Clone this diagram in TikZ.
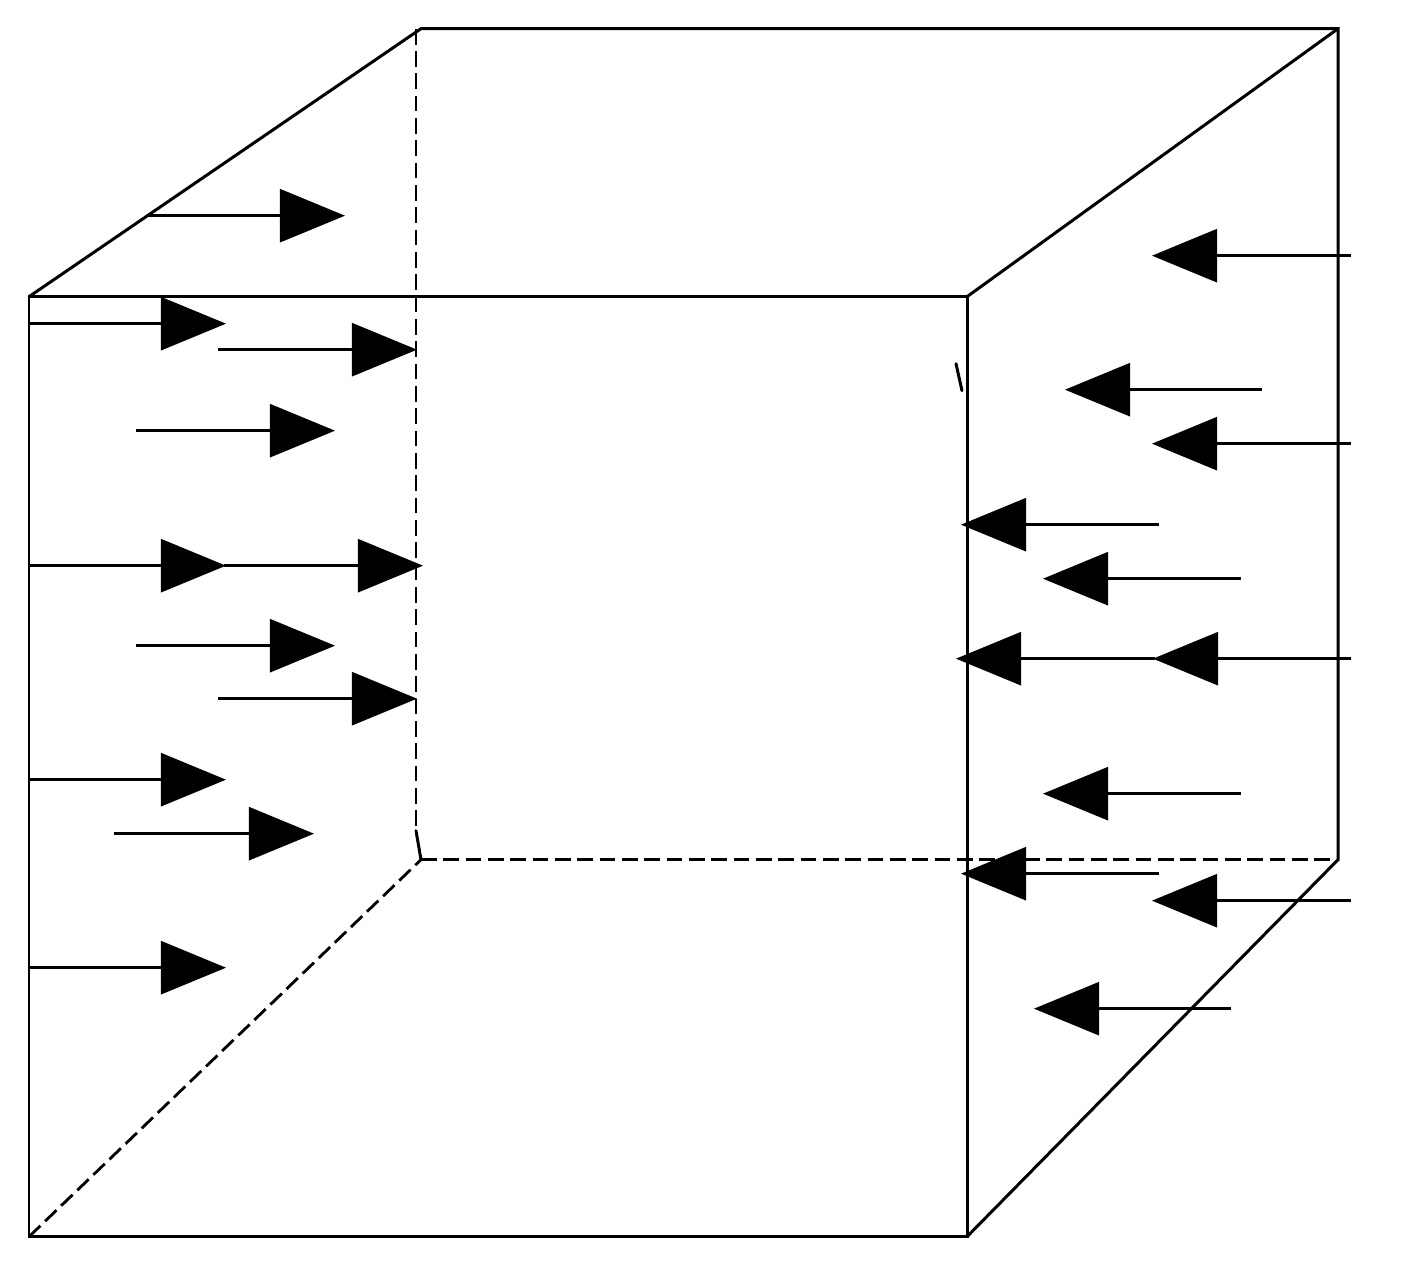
\documentclass[tikz,border=0pt]{standalone}
\usepackage{amsmath,amssymb}
\usetikzlibrary{arrows.meta}
\tikzset{
    edgeline/.style={line width=0.85pt,line cap=round},
    hiddenline/.style={line width=0.8pt,dash pattern=on 4.5pt off 1.85pt},
    pressure/.style={line width=0.75pt,-{Triangle[length=0.65cm,width=0.53cm]}}
}
\begin{document}
\begin{tikzpicture}[x=0.01cm,y=-0.01cm]
        \useasboundingbox (0,-0.7) rectangle (1402,1273.3);
        \coordinate (a1) at (29,296);
        \coordinate (a2) at (967,296);
        \coordinate (a3) at (967,1236);
        \coordinate (a4) at (29,1236);
        \coordinate (b1) at (421,28);
        \coordinate (b2) at (1338,28);
        \coordinate (b3) at (1338,859);
        \coordinate (b4) at (421,859);
        \coordinate (b5) at (416,28);
        \coordinate (b6) at (416,830);
        \draw[edgeline] (a1) -- (a2) -- (a3) -- (a4) -- cycle;
        \draw[edgeline] (a1) -- (b1) -- (b2) -- (b3) -- (a3);
        \draw[edgeline] (a2) -- (b2);
        \draw[hiddenline] (b5) -- (b6);
        \draw[edgeline] (b6) -- (b4);
        \draw[hiddenline] (b4) -- (b3);
        \draw[hiddenline] (a4) -- (b4);
        \draw[edgeline] (956,363) -- (962,390);
        % pushing in from the left face
        \foreach \xa/\xb/\ya in {147/345/215,29/226/323,218/417/349,136/335/430,29/226/565,224/423/565,136/335/645,218/417/698,29/226/779,114/314/833,29/226/967}
            \draw[pressure] (\xa,\ya) -- (\xb,\ya);
        % pushing in from the right face
        \foreach \xa/\xb/\ya in {1351/1152/255,1262/1065/389,1351/1152/443,1159/961/524,1241/1043/578,1351/1153/658,1155/956/658,1241/1043/793,1159/961/873,1351/1152/900,1231/1034/1008}
            \draw[pressure] (\xa,\ya) -- (\xb,\ya);
    \end{tikzpicture}
\end{document}
